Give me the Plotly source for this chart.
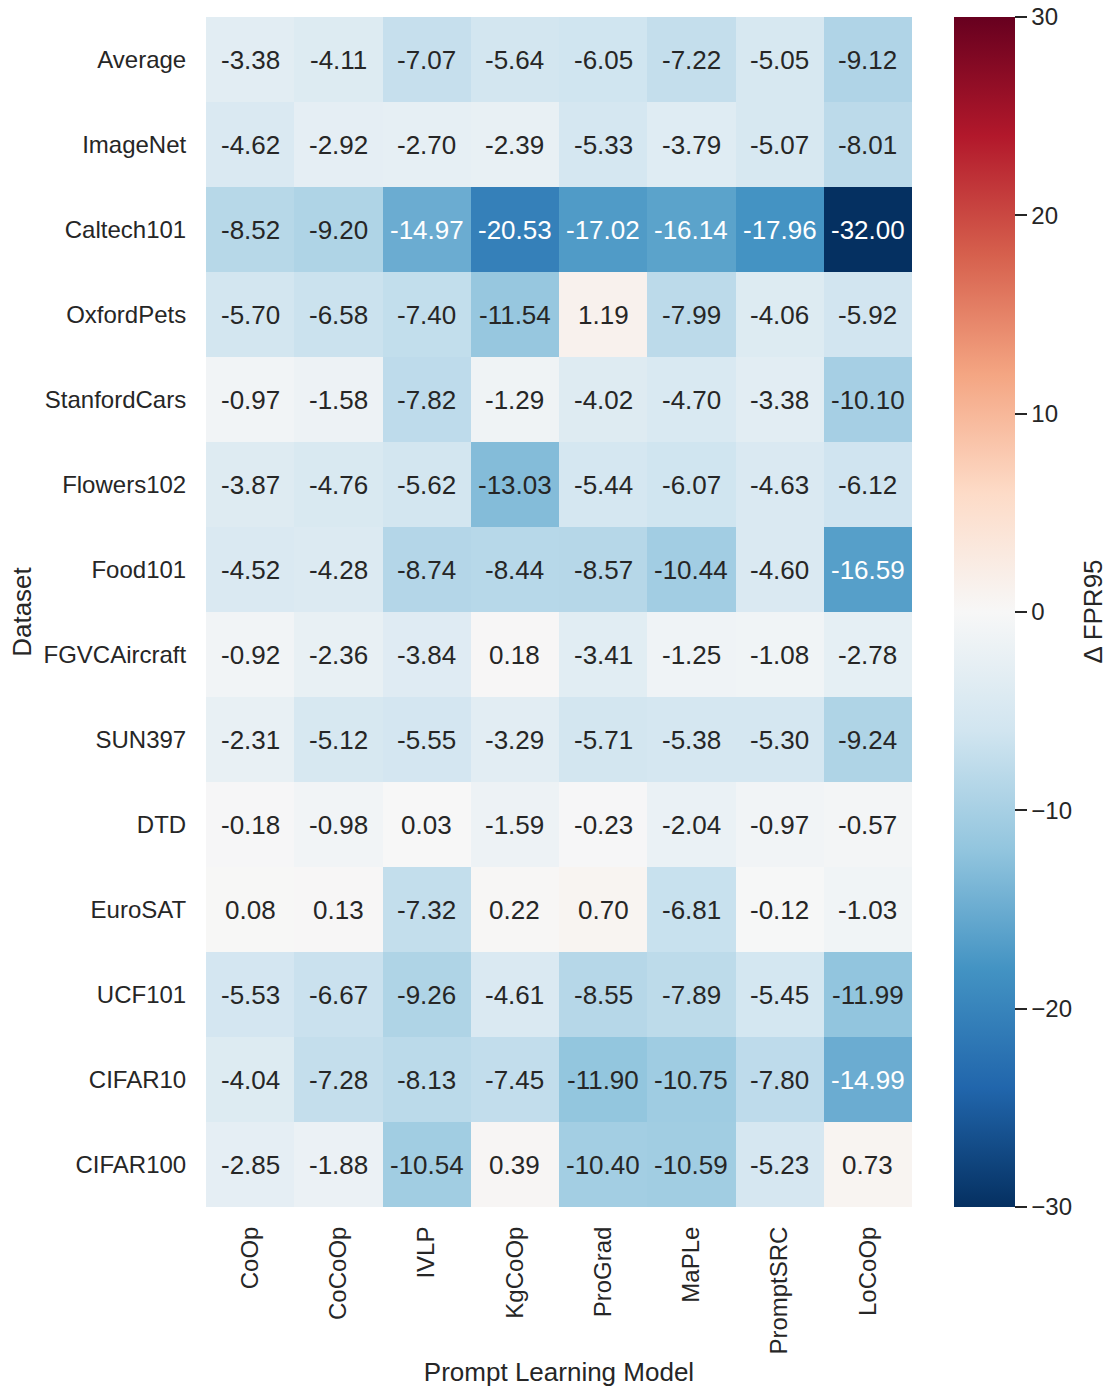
import plotly.graph_objects as go

datasets = ["Average", "ImageNet", "Caltech101", "OxfordPets", "StanfordCars", "Flowers102",
            "Food101", "FGVCAircraft", "SUN397", "DTD", "EuroSAT", "UCF101", "CIFAR10", "CIFAR100"]
models = ["CoOp", "CoCoOp", "IVLP", "KgCoOp", "ProGrad", "MaPLe", "PromptSRC", "LoCoOp"]

coop      = [-3.38, -4.62, -8.52, -5.70, -0.97, -3.87, -4.52, -0.92, -2.31, -0.18, 0.08, -5.53, -4.04, -2.85]
cocoop    = [-4.11, -2.92, -9.20, -6.58, -1.58, -4.76, -4.28, -2.36, -5.12, -0.98, 0.13, -6.67, -7.28, -1.88]
ivlp      = [-7.07, -2.70, -14.97, -7.40, -7.82, -5.62, -8.74, -3.84, -5.55, 0.03, -7.32, -9.26, -8.13, -10.54]
kgcoop    = [-5.64, -2.39, -20.53, -11.54, -1.29, -13.03, -8.44, 0.18, -3.29, -1.59, 0.22, -4.61, -7.45, 0.39]
prograd   = [-6.05, -5.33, -17.02, 1.19, -4.02, -5.44, -8.57, -3.41, -5.71, -0.23, 0.70, -8.55, -11.90, -10.40]
maple     = [-7.22, -3.79, -16.14, -7.99, -4.70, -6.07, -10.44, -1.25, -5.38, -2.04, -6.81, -7.89, -10.75, -10.59]
promptsrc = [-5.05, -5.07, -17.96, -4.06, -3.38, -4.63, -4.60, -1.08, -5.30, -0.97, -0.12, -5.45, -7.80, -5.23]
locoop    = [-9.12, -8.01, -32.00, -5.92, -10.10, -6.12, -16.59, -2.78, -9.24, -0.57, -1.03, -11.99, -14.99, 0.73]

cbar_ticks = [-30, -20, -10, 0, 10, 20, 30]

columns = [coop, cocoop, ivlp, kgcoop, prograd, maple, promptsrc, locoop]
z = [list(row) for row in zip(*columns)]

ZMIN, ZMAX = -30, 30
rdbu = ["rgb(103,0,31)", "rgb(178,24,43)", "rgb(214,96,77)", "rgb(244,165,130)", "rgb(253,219,199)",
        "rgb(247,247,247)", "rgb(209,229,240)", "rgb(146,197,222)", "rgb(67,147,195)",
        "rgb(33,102,172)", "rgb(5,48,97)"]
rdbu_r = rdbu[::-1]
n = len(rdbu_r)
colorscale = [[i / (n - 1), c] for i, c in enumerate(rdbu_r)]
rgb_list = [tuple(int(v) for v in c[4:-1].split(",")) for c in rdbu_r]


def color_at(v):
    t = (min(max(v, ZMIN), ZMAX) - ZMIN) / (ZMAX - ZMIN)
    pos = t * (n - 1)
    i = min(int(pos), n - 2)
    f = pos - i
    a, b = rgb_list[i], rgb_list[i + 1]
    return [(a[k] + (b[k] - a[k]) * f) / 255 for k in range(3)]


def luminance(rgb):
    out = []
    for c in rgb:
        out.append(c / 12.92 if c <= 0.03928 else ((c + 0.055) / 1.055) ** 2.4)
    return 0.2126 * out[0] + 0.7152 * out[1] + 0.0722 * out[2]


FONT = "Liberation Sans, Arial, sans-serif"
DARK = "#262626"

fig = go.Figure(go.Heatmap(
    z=z, x=models, y=datasets, zmin=ZMIN, zmax=ZMAX, colorscale=colorscale,
    hoverongaps=False,
    colorbar=dict(
        thickness=61, len=1, lenmode="fraction", y=0.5, yanchor="middle",
        x=1.0595, xanchor="left", xpad=0, ypad=0, outlinewidth=0,
        tickvals=cbar_ticks, ticks="outside", ticklen=12, tickwidth=2, tickcolor=DARK,
        ticklabeloverflow="allow",
        tickfont=dict(family=FONT, size=24, color=DARK),
    ),
))

annotations = []
for i, ds in enumerate(datasets):
    for j, m in enumerate(models):
        v = z[i][j]
        col = DARK if luminance(color_at(v)) > 0.408 else "white"
        annotations.append(dict(x=m, y=ds, text=f"{v:.2f}", showarrow=False,
                                font=dict(family=FONT, size=26, color=col)))

annotations.append(dict(text="Δ FPR95", xref="paper", yref="paper", x=1.2557, y=0.5,
                        xanchor="center", yanchor="middle", textangle=-90, showarrow=False,
                        font=dict(family=FONT, size=26, color=DARK)))

fig.update_layout(
    width=1107, height=1387,
    margin=dict(l=206, r=195, t=17, b=180, autoexpand=False),
    paper_bgcolor="white", plot_bgcolor="white",
    font=dict(family=FONT, color=DARK),
    annotations=annotations,
    xaxis=dict(
        tickangle=-90, ticks="outside", ticklen=9, tickcolor="rgba(0,0,0,0)", automargin=False,
        tickfont=dict(family=FONT, size=24, color=DARK), showgrid=False, zeroline=False,
        title=dict(text="Prompt Learning Model", font=dict(family=FONT, size=26, color=DARK), standoff=10),
    ),
    yaxis=dict(
        autorange="reversed", ticks="outside", ticklen=14, tickcolor="rgba(0,0,0,0)", automargin=False,
        tickfont=dict(family=FONT, size=24, color=DARK), showgrid=False, zeroline=False,
        title=dict(text="Dataset", font=dict(family=FONT, size=26, color=DARK), standoff=4),
    ),
)

fig.write_html("out.html", config={"displayModeBar": False},
               post_script="document.body.style.margin='0';")
